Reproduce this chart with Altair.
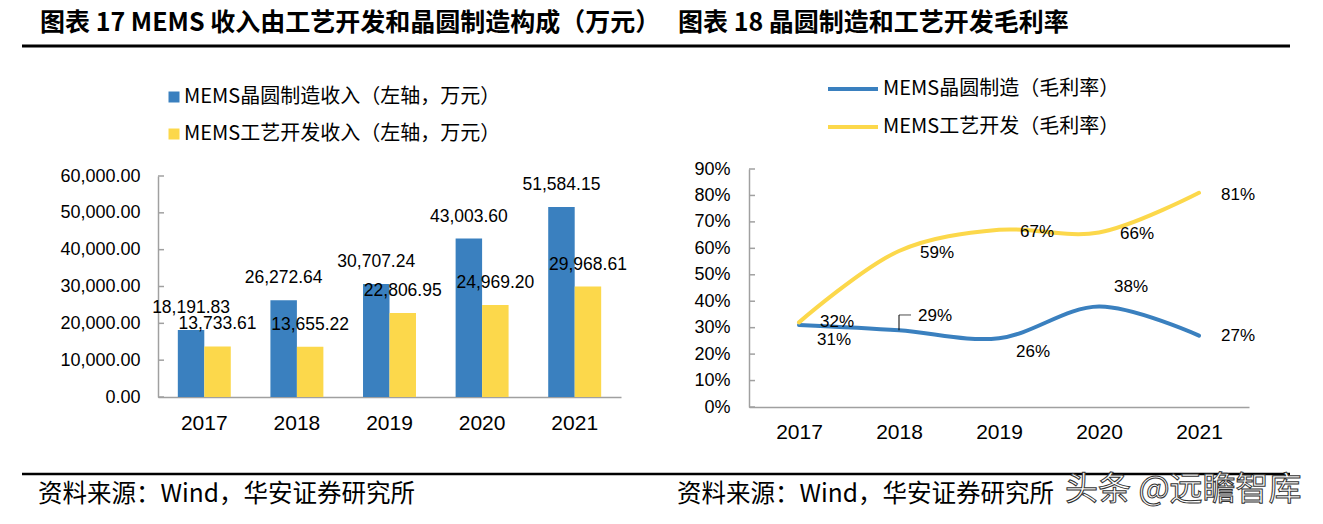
import altair as alt
import pandas as pd

# ---------------- data ----------------
years = ["2017", "2018", "2019", "2020", "2021"]
wafer_rev = [18191.83, 26272.64, 30707.24, 43003.60, 51584.15]
process_rev = [13733.61, 13655.22, 22806.95, 24969.20, 29968.61]
rev_series = ["MEMS晶圆制造收入（左轴，万元）", "MEMS工艺开发收入（左轴，万元）"]
rev_ticks = [0, 10000, 20000, 30000, 40000, 50000, 60000]

wafer_margin = [31, 29, 26, 38, 27]
process_margin = [32, 59, 67, 66, 81]
margin_series = ["MEMS晶圆制造（毛利率）", "MEMS工艺开发（毛利率）"]
margin_ticks = [0, 10, 20, 30, 40, 50, 60, 70, 80, 90]

title_left = "图表 17 MEMS 收入由工艺开发和晶圆制造构成（万元）"
title_right = "图表 18  晶圆制造和工艺开发毛利率"
source_text = "资料来源：Wind，华安证券研究所"
watermark = "头条 @远瞻智库"

# label placement (pixel offsets from each point), layout only
wafer_label_dx = [35, 36, 34, 32, 39]
wafer_label_dy = [15, -14, 14, -20, 0]
process_label_dx = [38, 38, 38, 38, 39]
process_label_dy = [0, 2, 2, 2, 2]

# ---------------- styles ----------------
BLUE = "#3A80BF"
YELLOW = "#FCD84B"
AXIS_GRAY = "#A0A0A0"
NUM_FONT = "Liberation Sans"
CJK_FONT = "Noto Sans CJK SC"

rev_df = pd.DataFrame({
    "year": years * 2,
    "series": [rev_series[0]] * 5 + [rev_series[1]] * 5,
    "value": wafer_rev + process_rev,
})
margin_df = pd.DataFrame({
    "year": years * 2,
    "series": [margin_series[0]] * 5 + [margin_series[1]] * 5,
    "margin": wafer_margin + process_margin,
})
margin_df["label"] = margin_df["margin"].astype(str) + "%"
margin_df["idx"] = range(len(margin_df))
label_dx = wafer_label_dx + process_label_dx
label_dy = wafer_label_dy + process_label_dy

# ---------------- left chart ----------------
x_rev = alt.X(
    "year:N",
    scale=alt.Scale(domain=years, range=[158, 621], paddingInner=0.428, paddingOuter=0.214),
    axis=alt.Axis(orient="bottom", offset=-127, title=None, ticks=False, grid=False,
                  domainColor=AXIS_GRAY, domainWidth=1.5, labelFont=NUM_FONT,
                  labelFontSize=21, labelColor="black", labelPadding=15, labelAngle=0),
)
y_rev = alt.Y(
    "value:Q",
    scale=alt.Scale(domain=[0, 60000], range=[397, 176], nice=False),
    axis=alt.Axis(orient="left", offset=-158, title=None, ticks=False, grid=False,
                  values=rev_ticks, format=",.2f", domainColor=AXIS_GRAY, domainWidth=1.5,
                  labelFont=NUM_FONT, labelFontSize=18, labelColor="black", labelPadding=18),
)
x_off = alt.XOffset("series:N", scale=alt.Scale(domain=rev_series, paddingInner=0, paddingOuter=0))

bars = alt.Chart(rev_df).mark_bar().encode(
    x=x_rev, xOffset=x_off, y=y_rev,
    color=alt.Color(
        "series:N",
        scale=alt.Scale(domain=rev_series, range=[BLUE, YELLOW]),
        legend=alt.Legend(orient="none", legendX=164, legendY=87, title=None,
                          symbolType="square", symbolSize=121, symbolStrokeWidth=0,
                          labelFont=CJK_FONT, labelFontSize=20, labelColor="black",
                          labelOffset=0, labelLimit=600, rowPadding=17, direction="vertical"),
    ),
)
bar_labels = alt.Chart(rev_df).mark_text(
    dy=-22, baseline="middle", align="center", font=NUM_FONT, fontSize=17.5, color="black"
).encode(x=x_rev, xOffset=x_off, y=y_rev, text=alt.Text("value:Q", format=",.2f"))

rev_tick_df = pd.DataFrame({"value": rev_ticks})
rev_tick_marks = alt.Chart(rev_tick_df).mark_rule(color=AXIS_GRAY, strokeWidth=1.5).encode(
    y=y_rev, x=alt.value(158), x2=alt.value(164)
)
left = alt.layer(bars, bar_labels, rev_tick_marks)

# ---------------- right chart ----------------
x_m = alt.X(
    "year:N",
    scale=alt.Scale(type="point", domain=years, range=[749, 1249], padding=0.5),
    axis=alt.Axis(orient="bottom", offset=-117, title=None, ticks=False, grid=False,
                  domainColor=AXIS_GRAY, domainWidth=1.5, labelFont=NUM_FONT,
                  labelFontSize=21, labelColor="black", labelPadding=14, labelAngle=0),
)
y_m = alt.Y(
    "margin:Q",
    scale=alt.Scale(domain=[0, 90], range=[407, 169], nice=False),
    axis=alt.Axis(orient="left", offset=-749, title=None, ticks=False, grid=False,
                  values=margin_ticks, labelExpr="datum.value + '%'",
                  domainColor=AXIS_GRAY, domainWidth=1.5, labelFont=NUM_FONT,
                  labelFontSize=18, labelColor="black", labelPadding=19),
)
lines = alt.Chart(margin_df).mark_line(
    interpolate="catmull-rom", strokeWidth=4, strokeCap="round"
).encode(
    x=x_m, y=y_m,
    color=alt.Color(
        "series:N",
        scale=alt.Scale(domain=margin_series, range=[BLUE, YELLOW]),
        legend=alt.Legend(orient="none", legendX=843, legendY=79, title=None,
                          symbolType="M-5,0H5", symbolSize=100, symbolStrokeWidth=4,
                          labelFont=CJK_FONT, labelFontSize=20, labelColor="black",
                          labelOffset=20, labelLimit=600, rowPadding=18, direction="vertical"),
    ),
)

label_layers = []
for i in range(len(margin_df)):
    label_layers.append(
        alt.Chart(margin_df).transform_filter(f"datum.idx == {i}").mark_text(
            baseline="middle", align="center", font=NUM_FONT, fontSize=17, color="black",
            dx=int(label_dx[i]), dy=int(label_dy[i]),
        ).encode(x=x_m, y=y_m, text="label:N")
    )

# leader line for the 2018 wafer label
leader_src = margin_df[(margin_df["year"] == "2018") & (margin_df["series"] == margin_series[0])]
leader_v = alt.Chart(leader_src).transform_calculate(top="datum.margin + 5.8").mark_rule(
    color="black", strokeWidth=1
).encode(x=x_m, y=y_m, y2=alt.Y2("top:Q"))
leader_h = alt.Chart(leader_src).transform_calculate(
    top="datum.margin + 5.8", off="6"
).mark_tick(color="black", orient="horizontal", size=12, thickness=1).encode(
    x=x_m, y=alt.Y("top:Q"), xOffset=alt.XOffset("off:Q", scale=None)
)

margin_tick_df = pd.DataFrame({"margin": margin_ticks})
margin_tick_marks = alt.Chart(margin_tick_df).mark_rule(color=AXIS_GRAY, strokeWidth=1.5).encode(
    y=y_m, x=alt.value(749), x2=alt.value(755)
)
right = alt.layer(lines, *label_layers, leader_v, leader_h, margin_tick_marks)

# ---------------- decorations: titles, rules, sources ----------------
one = pd.DataFrame({"a": [0]})


def text_at(t, x, y, size, weight="normal", font=CJK_FONT, **kw):
    return alt.Chart(pd.DataFrame({"t": [t]})).mark_text(
        align="left", baseline="middle", font=font, fontSize=size, fontWeight=weight, **kw
    ).encode(text="t:N", x=alt.value(x), y=alt.value(y))


deco = alt.layer(
    text_at(title_left, 40, 23, 25, "bold", color="black"),
    text_at(title_right, 678, 23, 25, "bold", color="black"),
    alt.Chart(one).mark_rule(color="black", strokeWidth=3).encode(
        x=alt.value(22), x2=alt.value(1290), y=alt.value(46)),
    alt.Chart(one).mark_rule(color="black", strokeWidth=2.5).encode(
        x=alt.value(22), x2=alt.value(1290), y=alt.value(474)),
    text_at(source_text, 38, 495, 24.5, color="black"),
    text_at(source_text, 677, 495, 24.5, color="black"),
    text_at(watermark, 1065, 490, 33, fill="white", stroke="#333333", strokeWidth=1),
)

chart = alt.layer(left, right, deco).resolve_scale(
    x="independent", y="independent", color="independent",
    xOffset="independent",
).properties(
    width=1323, height=524, padding=0,
    autosize=alt.AutoSizeParams(type="none"),
).configure_view(stroke=None)

chart.save("out.html", embed_options={"renderer": "svg", "actions": False})
